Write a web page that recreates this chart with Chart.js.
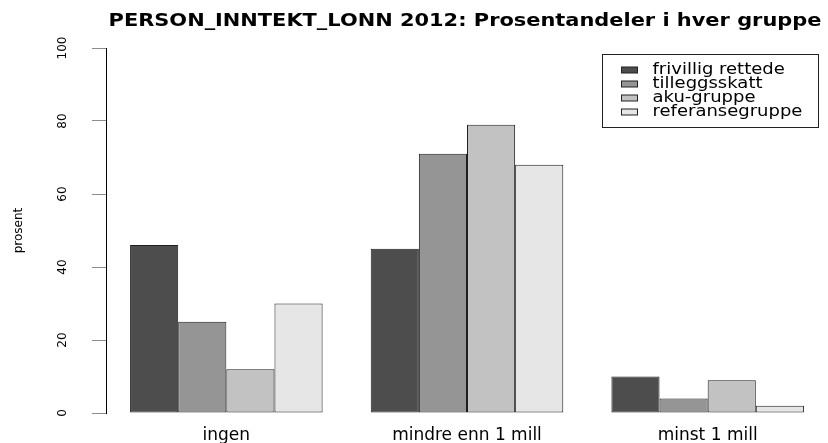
<!DOCTYPE html>
<html>
<head>
<meta charset="utf-8">
<script src="https://cdn.jsdelivr.net/npm/chart.js@4/dist/chart.umd.min.js"></script>
<style>
  html, body { margin: 0; padding: 0; background: #ffffff; }
  #wrap { width: 828px; height: 443px; }
</style>
</head>
<body>
<div id="wrap"><canvas id="c" width="828" height="443"></canvas></div>
<script>
// Income groups (x categories) and the four comparison groups (series)
const chartTitle = 'PERSON_INNTEKT_LONN 2012: Prosentandeler i hver gruppe';
const categories = ['ingen', 'mindre enn 1 mill', 'minst 1 mill'];
const seriesNames = ['frivillig rettede', 'tilleggsskatt', 'aku-gruppe', 'referansegruppe'];
const frivilligRettede = [46, 45, 10];
const tilleggsskatt = [25, 71, 4];
const akuGruppe = [12, 79, 9];
const referansegruppe = [30, 68, 2];
const yTicks = [0, 20, 40, 60, 80, 100];
const yLabel = 'prosent';

const seriesValues = [frivilligRettede, tilleggsskatt, akuGruppe, referansegruppe];
const seriesColors = ['#4D4D4D', '#959595', '#C2C2C2', '#E6E6E6'];
const FONT = 'DejaVu Sans';

Chart.defaults.font.family = FONT;
Chart.defaults.color = '#000000';

// Bold heading, drawn horizontally widened like the original device output
const headingPlugin = {
  id: 'heading',
  afterDraw(chart) {
    const ctx = chart.ctx;
    const area = chart.chartArea;
    ctx.save();
    ctx.font = 'bold 17px "' + FONT + '"';
    ctx.fillStyle = '#000000';
    ctx.textBaseline = 'alphabetic';
    ctx.textAlign = 'center';
    const cx = (area.left + area.right) / 2 - 2;
    ctx.translate(cx, 26);
    ctx.scale(1.23, 1);
    ctx.fillText(chartTitle, 0, 0);
    ctx.restore();
  }
};

// Boxed legend in the upper right corner of the plot region
const boxLegendPlugin = {
  id: 'boxLegend',
  afterDraw(chart) {
    const ctx = chart.ctx;
    const area = chart.chartArea;
    const w = 216, h = 73;
    const x0 = area.right - 225.5, y0 = area.top + 6.5;
    ctx.save();
    ctx.strokeStyle = '#222222';
    ctx.lineWidth = 1;
    ctx.strokeRect(x0, y0, w, h);
    ctx.font = '15px "' + FONT + '"';
    ctx.textBaseline = 'middle';
    ctx.textAlign = 'left';
    chart.data.datasets.forEach((ds, i) => {
      const cy = y0 + 15.5 + i * 14;
      ctx.fillStyle = ds.backgroundColor;
      ctx.fillRect(x0 + 19, cy - 3, 16, 6);
      ctx.strokeStyle = '#222222';
      ctx.strokeRect(x0 + 19, cy - 3, 16, 6);
      ctx.fillStyle = '#000000';
      ctx.save();
      ctx.translate(x0 + 50, cy);
      ctx.scale(1.2, 1);
      ctx.fillText(ds.label, 0, 0);
      ctx.restore();
    });
    ctx.restore();
  }
};

new Chart(document.getElementById('c'), {
  type: 'bar',
  data: {
    labels: categories,
    datasets: seriesNames.map((name, i) => ({
      label: name,
      data: seriesValues[i],
      backgroundColor: seriesColors[i],
      borderColor: '#1f1f1f',
      borderWidth: 1,
      borderSkipped: false,
      categoryPercentage: 0.8,
      barPercentage: 1.0
    }))
  },
  options: {
    responsive: false,
    animation: false,
    devicePixelRatio: 1,
    layout: { padding: { top: 48, right: 0, bottom: 0, left: 0 } },
    plugins: {
      legend: { display: false },
      title: { display: false },
      tooltip: { enabled: false }
    },
    scales: {
      x: {
        type: 'category',
        grid: { display: false, drawTicks: false },
        border: { display: false },
        ticks: { font: { size: 17 }, padding: 12, color: '#000000', maxRotation: 0, minRotation: 0 },
        afterFit(scale) { scale.height = 30; }
      },
      y: {
        min: 0,
        max: 100,
        afterBuildTicks(scale) { scale.ticks = yTicks.map(v => ({ value: v })); },
        grid: { drawOnChartArea: false, drawTicks: true, tickLength: 14, color: '#8c8c8c' },
        border: { display: true, color: '#000000', width: 1 },
        ticks: {
          font: { size: 12 },
          color: '#000000',
          minRotation: 90,
          maxRotation: 90,
          crossAlign: 'center',
          padding: 18
        },
        title: { display: true, text: yLabel, font: { size: 12 }, color: '#000000', padding: { top: 12, bottom: 0 } },
        afterFit(scale) { scale.width = 106; }
      }
    }
  },
  plugins: [headingPlugin, boxLegendPlugin]
});
</script>
</body>
</html>
